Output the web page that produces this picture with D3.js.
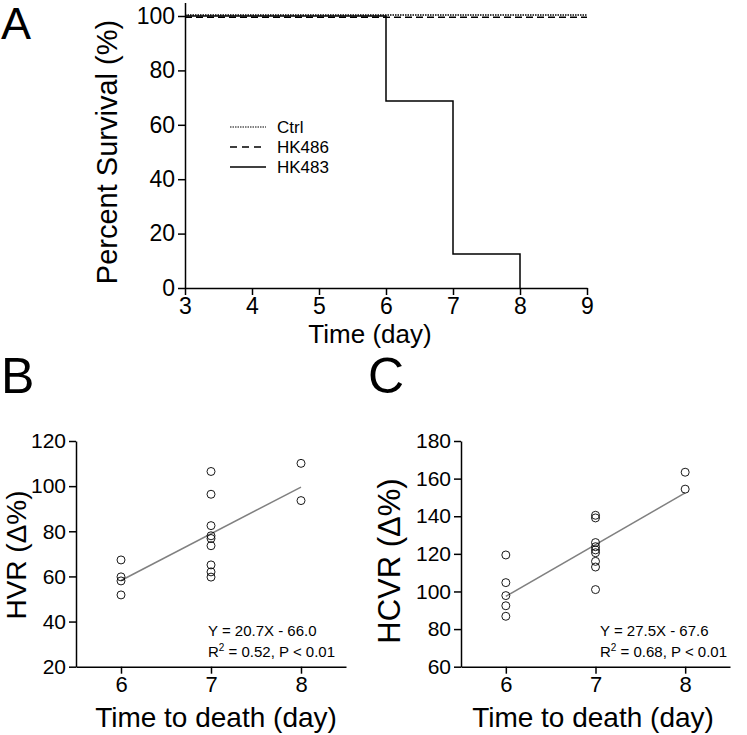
<!DOCTYPE html>
<html>
<head>
<meta charset="utf-8">
<script src="https://cdn.jsdelivr.net/npm/d3@7"></script>
<style>
  body { margin: 0; background: #fff; }
  svg { font-family: "Liberation Sans", Arial, sans-serif; }
</style>
</head>
<body>
<svg id="fig" width="747" height="735"></svg>
<script>
// Panel A: survival curves (day, percent)
const ctrlSurv = [[3, 100.4], [9, 100.4]]
const hk486Surv = [[3, 99.5], [9, 99.5]]
const hk483Surv = [[3, 100], [6, 68.75], [7, 12.5], [8, 0]]
const legendNames = ["Ctrl", "HK486", "HK483"]
const survTicksX = [3, 4, 5, 6, 7, 8, 9]
const survTicksY = [0, 20, 40, 60, 80, 100]

// Panel B: HVR vs time to death
const hvrDays = [6, 6, 6, 6, 7, 7, 7, 7, 7, 7, 7, 7, 7, 8, 8]
const hvrVals = [67.3, 59.8, 58, 51.8, 106.5, 96.4, 82.5, 78, 76.8, 73.6, 65.1, 62, 59.7, 110.1, 93.6]
const hvrFit = [20.7, -66.0]
const hvrText = ["Y = 20.7X - 66.0", "= 0.52, P < 0.01"]

// Panel C: HCVR vs time to death
const hcvrDays = [6, 6, 6, 6, 6, 7, 7, 7, 7, 7, 7, 7, 7, 7, 8, 8]
const hcvrVals = [119.4, 104.7, 97.8, 92.4, 86.8, 140.5, 139.1, 126, 123.8, 122.1, 120.6, 116, 113, 101, 163.4, 154.4]
const hcvrFit = [27.5, -67.6]
const hcvrText = ["Y = 27.5X - 67.6", "= 0.68, P < 0.01"]

const dayTicks = [6, 7, 8]

const svg = d3.select('#fig')
const fmt = d3.format('d')

function styleAxis(g, size) {
    g.selectAll('path, line').attr('stroke', '#000').attr('stroke-width', 1.5)
    g.selectAll('text').attr('font-size', size).attr('fill', '#000')
        .attr('font-family', '"Liberation Sans", Arial, sans-serif')
}

// ---------- Panel A ----------
const xA = d3.scaleLinear().domain([3, 9]).range([185, 587])
const yA = d3.scaleLinear().domain([0, 105]).range([288, 2.4])

svg.append('g')
    .attr('transform', 'translate(0,288)')
    .call(d3.axisBottom(xA).tickValues(survTicksX).tickFormat(fmt).tickSize(7).tickSizeOuter(0).tickPadding(3))
    .call(styleAxis, 23)
svg.append('g')
    .attr('transform', 'translate(185,0)')
    .call(d3.axisLeft(yA).tickValues(survTicksY).tickFormat(fmt).tickSize(7).tickSizeOuter(0).tickPadding(3))
    .call(styleAxis, 23)

const lineA = d3.line().x(d => xA(d[0])).y(d => yA(d[1])).curve(d3.curveStepAfter)
const survSeries = [
    {name: legendNames[0], data: ctrlSurv, dash: '1.5,1'},
    {name: legendNames[1], data: hk486Surv, dash: '7,4'},
    {name: legendNames[2], data: hk483Surv, dash: null}
]
svg.selectAll('.surv')
    .data(survSeries)
    .enter()
    .append('path')
    .attr('class', 'surv')
    .attr('d', d => lineA(d.data))
    .attr('fill', 'none')
    .attr('stroke', '#000')
    .attr('stroke-width', 1.5)
    .attr('stroke-dasharray', d => d.dash)

const leg = svg.selectAll('.leg')
    .data(survSeries)
    .enter()
    .append('g')
    .attr('class', 'leg')
    .attr('transform', (d, i) => `translate(230,${127 + i * 20})`)
leg.append('line')
    .attr('x1', 0).attr('x2', 36)
    .attr('stroke', '#000')
    .attr('stroke-width', d => d.dash === '1.5,1' ? 1 : 1.3)
    .attr('stroke-dasharray', d => d.dash === '7,4' ? '7,5' : d.dash)
leg.append('text')
    .attr('x', 47).attr('y', 6)
    .attr('font-size', 17)
    .text(d => d.name)

svg.append('text')
    .attr('x', 370).attr('y', 343)
    .attr('text-anchor', 'middle')
    .attr('font-size', 26)
    .text('Time (day)')
svg.append('text')
    .attr('transform', 'translate(117,152) rotate(-90)')
    .attr('text-anchor', 'middle')
    .attr('font-size', 29)
    .text('Percent Survival (%)')
svg.append('text')
    .attr('x', 1).attr('y', 39)
    .attr('font-size', 45)
    .text('A')

// ---------- Panels B and C ----------
function scatterPanel(opt) {
    const x = d3.scaleLinear().domain([5.5, 8.5]).range([opt.left, opt.right])
    const y = d3.scaleLinear().domain(opt.yDomain).range([666.7, 441])

    svg.append('g')
        .attr('transform', 'translate(0,666.7)')
        .call(d3.axisBottom(x).tickValues(dayTicks).tickFormat(fmt).tickSize(7).tickSizeOuter(0).tickPadding(3))
        .call(styleAxis, 22)
    svg.append('g')
        .attr('transform', `translate(${opt.left},0)`)
        .call(d3.axisLeft(y).tickValues(opt.yTicks).tickFormat(fmt).tickSize(7).tickSizeOuter(0).tickPadding(3))
        .call(styleAxis, 21)

    const fit = opt.fit
    svg.append('line')
        .attr('x1', x(6)).attr('y1', y(fit[0] * 6 + fit[1]))
        .attr('x2', x(8)).attr('y2', y(fit[0] * 8 + fit[1]))
        .attr('stroke', '#808080')
        .attr('stroke-width', 1.5)

    svg.append('g')
        .selectAll('circle')
        .data(opt.days.map((d, i) => [d, opt.vals[i]]))
        .enter()
        .append('circle')
        .attr('cx', d => x(d[0]))
        .attr('cy', d => y(d[1]))
        .attr('r', 4)
        .attr('fill', 'none')
        .attr('stroke', '#000')
        .attr('stroke-width', 0.9)

    const tx = opt.textX
    svg.append('text')
        .attr('x', tx).attr('y', 636)
        .attr('font-size', 15)
        .text(opt.text[0])
    const r2 = svg.append('text')
        .attr('x', tx).attr('y', 657)
        .attr('font-size', 15)
    r2.append('tspan').text('R')
    r2.append('tspan').attr('dy', -6).attr('font-size', 10).text('2')
    r2.append('tspan').attr('dy', 6).text(' ' + opt.text[1])

    svg.append('text')
        .attr('x', opt.titleX).attr('y', 727)
        .attr('text-anchor', 'middle')
        .attr('font-size', 28)
        .text('Time to death (day)')
    svg.append('text')
        .attr('transform', `translate(${opt.labelX},${opt.labelY}) rotate(-90)`)
        .attr('text-anchor', 'middle')
        .attr('font-size', opt.labelSize)
        .text(opt.yLabel)
    svg.append('text')
        .attr('x', opt.letterX).attr('y', 393)
        .attr('font-size', 50)
        .text(opt.letter)
}

scatterPanel({
    left: 76, right: 346,
    yDomain: [20, 120], yTicks: [20, 40, 60, 80, 100, 120],
    days: hvrDays, vals: hvrVals, fit: hvrFit, text: hvrText,
    textX: 208, titleX: 216, labelX: 26, labelY: 555, labelSize: 28,
    letterX: 1, letter: 'B',
    yLabel: 'HVR (\u0394%)'
})
scatterPanel({
    left: 461, right: 730,
    yDomain: [60, 180], yTicks: [60, 80, 100, 120, 140, 160, 180],
    days: hcvrDays, vals: hcvrVals, fit: hcvrFit, text: hcvrText,
    textX: 600, titleX: 593, labelX: 400, labelY: 561, labelSize: 31,
    letterX: 368, letter: 'C',
    yLabel: 'HCVR (\u0394%)'
})
</script>
</body>
</html>
